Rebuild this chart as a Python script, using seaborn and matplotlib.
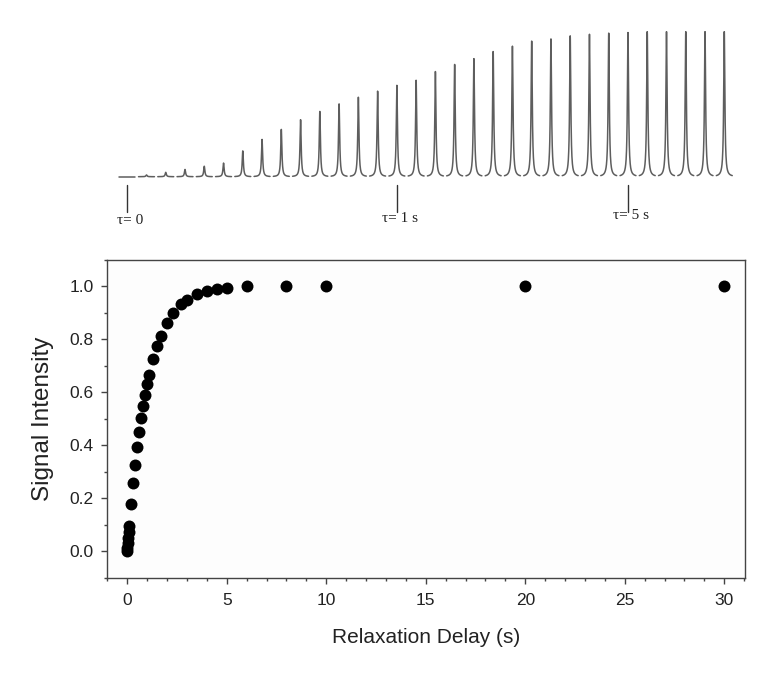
import numpy as np
import pandas as pd
import matplotlib
matplotlib.use("Agg")
import matplotlib.pyplot as plt
from matplotlib.ticker import MultipleLocator, FormatStrFormatter
import seaborn as sns

# Inversion-recovery series: relaxation delays (s) and normalised signal intensity
delays = [0, 0.01, 0.02, 0.05, 0.075, 0.1, 0.2, 0.3, 0.4, 0.5, 0.6, 0.7, 0.8,
          0.9, 1.0, 1.1, 1.3, 1.5, 1.7, 2.0, 2.3, 2.7, 3.0, 3.5, 4.0, 4.5,
          5, 6, 8, 10, 20, 30]
intensity = [0.0, 0.012, 0.03, 0.05, 0.072, 0.094, 0.178, 0.257, 0.326, 0.393,
             0.45, 0.502, 0.548, 0.59, 0.63, 0.665, 0.725, 0.774, 0.814, 0.863,
             0.90, 0.935, 0.95, 0.971, 0.982, 0.99, 0.994, 1.0, 1.0, 1.0, 1.0, 1.0]

# Delays flagged under the stacked spectra
flagged = [(0, "τ= 0"), (1.0, "τ= 1 s"), (5, "τ= 5 s")]

sns.set_theme(style="ticks")
plt.rcParams["font.family"] = ["Liberation Sans", "DejaVu Sans"]

fig = plt.figure(figsize=(7.67, 6.76), dpi=100)
fig.patch.set_facecolor("white")

# ---- lower panel: signal vs delay ----
ax = fig.add_axes([0.1389, 0.1454, 0.8324, 0.470])
ax.set_facecolor("#fdfdfd")
sns.scatterplot(x=delays, y=intensity, ax=ax, color="black", s=74,
                linewidth=0, legend=False, zorder=3)
ax.set_xlim(-1.04, 31.04)
ax.set_ylim(-0.1, 1.1)
ax.xaxis.set_major_locator(MultipleLocator(5))
ax.xaxis.set_minor_locator(MultipleLocator(1))
ax.yaxis.set_major_locator(MultipleLocator(0.2))
ax.yaxis.set_minor_locator(MultipleLocator(0.1))
ax.yaxis.set_major_formatter(FormatStrFormatter("%.1f"))
ax.tick_params(which="both", direction="out", top=False, right=False,
               color="#444444", width=1.0, labelcolor="#222222", labelsize=12.5)
ax.tick_params(which="major", length=4.3)
ax.tick_params(which="minor", length=2.4)
ax.tick_params(axis="x", which="major", pad=7)
ax.tick_params(axis="y", which="major", pad=5)
for sp in ax.spines.values():
    sp.set_visible(True)
    sp.set_color("#444444")
    sp.set_linewidth(1.0)
ax.set_xlabel("Relaxation Delay (s)", fontsize=15, color="#222222", labelpad=14)
ax.set_ylabel("Signal Intensity", fontsize=17.5, color="#222222", labelpad=11)

# ---- upper panel: stacked Lorentzian lines, one per delay ----
spec = fig.add_axes([0.1389, 0.6528, 0.8324, 0.3175])
n = len(delays)
half_width = 0.035
offsets = np.linspace(-0.40, 0.40, 161)
rows = []
for i, amp in enumerate(intensity):
    centre = i * 30.0 / (n - 1)
    shape = half_width ** 2 / (half_width ** 2 + offsets ** 2)
    for dx, s in zip(offsets, shape):
        rows.append((i, centre + dx, amp * s))
spectra = pd.DataFrame(rows, columns=["peak", "x", "y"])
sns.lineplot(data=spectra, x="x", y="y", units="peak", estimator=None,
             sort=False, color="#5e5e5e", linewidth=1.1, ax=spec, legend=False)
spec.set_xlim(-1.04, 31.04)
spec.set_ylim(-0.4, 1.08)
spec.axis("off")

label_y = {0: -0.30, 1.0: -0.285, 5: -0.27}
for tau, text in flagged:
    idx = delays.index(tau)
    xc = idx * 30.0 / (n - 1)
    spec.plot([xc, xc], [-0.055, -0.245], color="#333333", linewidth=1.0)
    spec.text(xc + 0.15, label_y[tau], text, ha="center", va="center",
              fontsize=11, color="#222222",
              family=["Liberation Serif", "DejaVu Serif"])

fig.savefig("out.png", dpi=100)
